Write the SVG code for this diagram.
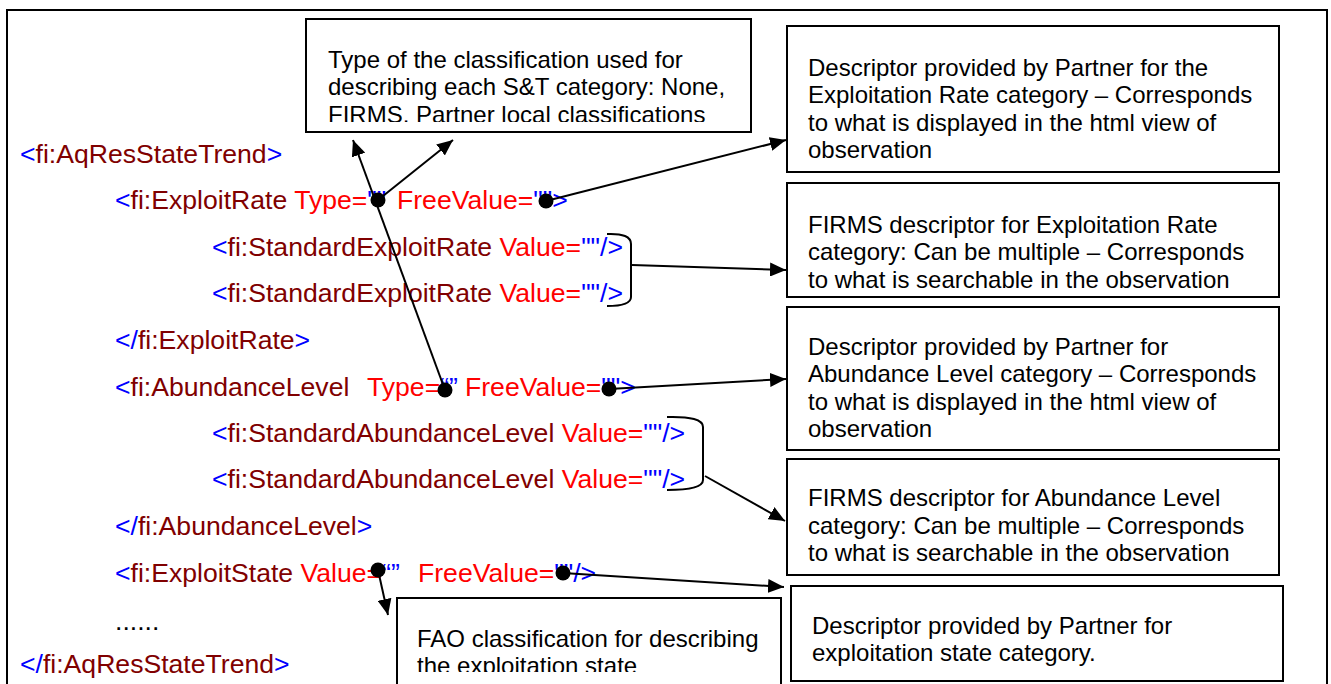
<svg xmlns="http://www.w3.org/2000/svg" width="1331" height="684" viewBox="0 0 1331 684">
<style>
.box{fill:#fff;stroke:#000;stroke-width:2}
.bt{font-family:"Liberation Sans",Arial,sans-serif;font-size:24px;fill:#000}
.x{font-family:"Liberation Sans",Arial,sans-serif;font-size:26.6px;white-space:pre}
.b{fill:#0000ff}
.n{fill:#800000}
.a{fill:#ff0000}
.k{fill:#000}
.c{stroke:#000;stroke-width:2;fill:none}
.arr{marker-end:url(#ah)}
.dot{fill:#000}
</style>
<defs>
<marker id="ah" markerUnits="userSpaceOnUse" markerWidth="18" markerHeight="14" refX="16" refY="7" orient="auto">
<path d="M0,0 L16,7 L0,14 Z" fill="#000"/>
</marker>
<clipPath id="clip1"><rect x="306" y="19" width="445" height="103"/></clipPath>
<clipPath id="clip7"><rect x="397" y="598" width="384" height="74"/></clipPath>
</defs>
<rect x="7" y="10" width="1320" height="700" fill="#fff" stroke="#000" stroke-width="2"/>
<g id="xml" class="x" xml:space="preserve">
<text x="20" y="163"><tspan class="b">&lt;</tspan><tspan class="n">fi:AqResStateTrend</tspan><tspan class="b">&gt;</tspan></text>
<text x="115" y="209"><tspan class="b">&lt;</tspan><tspan class="n">fi:ExploitRate </tspan><tspan class="a">Type=</tspan><tspan class="b">""</tspan><tspan class="a" x="397">FreeValue=</tspan><tspan class="b">""&gt;</tspan></text>
<text x="212" y="256"><tspan class="b">&lt;</tspan><tspan class="n">fi:StandardExploitRate </tspan><tspan class="a">Value=</tspan><tspan class="b">""/&gt;</tspan></text>
<text x="212" y="302"><tspan class="b">&lt;</tspan><tspan class="n">fi:StandardExploitRate </tspan><tspan class="a">Value=</tspan><tspan class="b">""/&gt;</tspan></text>
<text x="115" y="349"><tspan class="b">&lt;/</tspan><tspan class="n">fi:ExploitRate</tspan><tspan class="b">&gt;</tspan></text>
<text x="115" y="396"><tspan class="b">&lt;</tspan><tspan class="n">fi:AbundanceLevel</tspan><tspan class="a" x="367">Type=</tspan><tspan class="b">“”</tspan><tspan class="a" x="465">FreeValue=</tspan><tspan class="b">""&gt;</tspan></text>
<text x="212" y="442"><tspan class="b">&lt;</tspan><tspan class="n">fi:StandardAbundanceLevel </tspan><tspan class="a">Value=</tspan><tspan class="b">""/&gt;</tspan></text>
<text x="212" y="488"><tspan class="b">&lt;</tspan><tspan class="n">fi:StandardAbundanceLevel </tspan><tspan class="a">Value=</tspan><tspan class="b">""/&gt;</tspan></text>
<text x="115" y="535"><tspan class="b">&lt;/</tspan><tspan class="n">fi:AbundanceLevel</tspan><tspan class="b">&gt;</tspan></text>
<text x="115" y="582"><tspan class="b">&lt;</tspan><tspan class="n">fi:ExploitState </tspan><tspan class="a">Value=</tspan><tspan class="b">“”</tspan><tspan class="a" x="418">FreeValue=</tspan><tspan class="b">""/&gt;</tspan></text>
<text x="115" y="630" class="k">......</text>
<text x="20" y="673"><tspan class="b">&lt;/</tspan><tspan class="n">fi:AqResStateTrend</tspan><tspan class="b">&gt;</tspan></text>
</g>
<g id="box1">
<rect class="box" x="306" y="19" width="445" height="113"/>
<g clip-path="url(#clip1)">
<text class="bt" x="328" y="68">Type of the classification used for</text>
<text class="bt" x="328" y="95">describing each S&amp;T category: None,</text>
<text class="bt" x="328" y="123">FIRMS. Partner local classifications</text>
</g>
</g>
<g id="box2">
<rect class="box" x="787" y="26" width="492" height="146"/>
<text class="bt" x="808" y="76">Descriptor provided by Partner for the</text>
<text class="bt" x="808" y="103">Exploitation Rate category – Corresponds</text>
<text class="bt" x="808" y="131">to what is displayed in the html view of</text>
<text class="bt" x="808" y="158">observation</text>
</g>
<g id="box3">
<rect class="box" x="787" y="183" width="492" height="114"/>
<text class="bt" x="808" y="233">FIRMS descriptor for Exploitation Rate</text>
<text class="bt" x="808" y="260">category: Can be multiple – Corresponds</text>
<text class="bt" x="808" y="288">to what is searchable in the observation</text>
</g>
<g id="box4">
<rect class="box" x="787" y="307" width="492" height="143"/>
<text class="bt" x="808" y="355">Descriptor provided by Partner for</text>
<text class="bt" x="808" y="382">Abundance Level category – Corresponds</text>
<text class="bt" x="808" y="410">to what is displayed in the html view of</text>
<text class="bt" x="808" y="437">observation</text>
</g>
<g id="box5">
<rect class="box" x="787" y="459" width="492" height="116"/>
<text class="bt" x="808" y="506">FIRMS descriptor for Abundance Level</text>
<text class="bt" x="808" y="534">category: Can be multiple – Corresponds</text>
<text class="bt" x="808" y="561">to what is searchable in the observation</text>
</g>
<g id="box6">
<rect class="box" x="791" y="586" width="492" height="95"/>
<text class="bt" x="812" y="634">Descriptor provided by Partner for</text>
<text class="bt" x="812" y="661">exploitation state category.</text>
</g>
<g id="box7">
<rect class="box" x="397" y="598" width="384" height="90"/>
<g clip-path="url(#clip7)">
<text class="bt" x="417" y="647">FAO classification for describing</text>
<text class="bt" x="417" y="674">the exploitation state</text>
</g>
</g>
<g id="connectors">
<path class="c" d="M607,234 Q631,233 631,244 L631,297 Q631,306 607,306"/>
<path class="c" d="M667,417 Q703,416 703,427 L703,480 Q703,490 667,490"/>
<line class="c arr" x1="445" y1="390" x2="353" y2="140"/>
<line class="c arr" x1="378" y1="200" x2="453" y2="140"/>
<line class="c arr" x1="546" y1="201" x2="786" y2="140"/>
<line class="c arr" x1="632" y1="265" x2="786" y2="270"/>
<line class="c arr" x1="609" y1="389" x2="786" y2="379"/>
<line class="c arr" x1="705" y1="476" x2="785" y2="521"/>
<line class="c arr" x1="378" y1="570" x2="388" y2="615"/>
<line class="c arr" x1="563" y1="573" x2="784" y2="587"/>
<circle class="dot" cx="378" cy="200" r="7.5"/>
<circle class="dot" cx="546" cy="201" r="7.5"/>
<circle class="dot" cx="445" cy="390" r="7.5"/>
<circle class="dot" cx="609" cy="389" r="7.5"/>
<circle class="dot" cx="378" cy="570" r="7.5"/>
<circle class="dot" cx="563" cy="573" r="7.5"/>
</g>
</svg>
